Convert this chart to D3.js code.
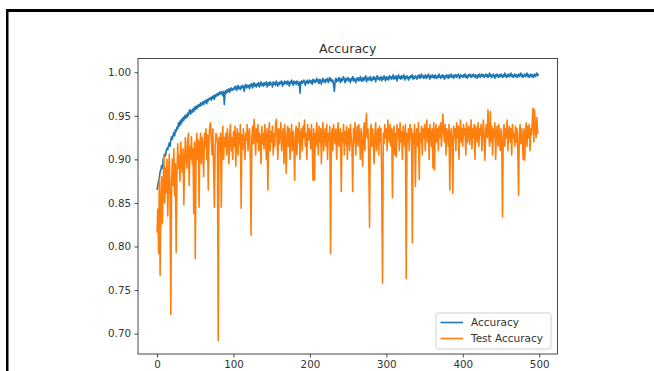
<!DOCTYPE html>
<html>
<head>
<meta charset="utf-8">
<script src="https://cdn.jsdelivr.net/npm/d3@7"></script>
<style>
  html, body { margin: 0; padding: 0; background: #fff; }
  svg { display: block; font-family: "DejaVu Sans", sans-serif; }
</style>
</head>
<body>
<svg id="chart" width="654" height="371"></svg>
<script>
// training accuracy per epoch
const accuracy = [
  0.865, 0.87, 0.876, 0.879, 0.886, 0.888, 0.893, 0.89, 0.9, 0.903,
  0.906, 0.904, 0.91, 0.913, 0.911, 0.916, 0.919, 0.915, 0.922, 0.926,
  0.923, 0.928, 0.931, 0.927, 0.934, 0.932, 0.937, 0.935, 0.942, 0.938,
  0.944, 0.94, 0.946, 0.943, 0.948, 0.945, 0.95, 0.947, 0.951, 0.948,
  0.953, 0.95, 0.955, 0.957, 0.952, 0.956, 0.954, 0.958, 0.955, 0.96,
  0.957, 0.961, 0.958, 0.962, 0.96, 0.963, 0.961, 0.965, 0.962, 0.964,
  0.966, 0.963, 0.967, 0.965, 0.968, 0.964, 0.969, 0.967, 0.97, 0.969,
  0.971, 0.968, 0.972, 0.97, 0.973, 0.969, 0.974, 0.972, 0.975, 0.973,
  0.976, 0.974, 0.977, 0.975, 0.978, 0.976, 0.973, 0.978, 0.963, 0.977,
  0.979, 0.976, 0.98, 0.978, 0.981, 0.977, 0.98, 0.982, 0.979, 0.981,
  0.98, 0.983, 0.981, 0.984, 0.979, 0.982, 0.985, 0.981, 0.983, 0.98,
  0.984, 0.982, 0.985, 0.983, 0.978, 0.984, 0.986, 0.982, 0.985, 0.983,
  0.985, 0.981, 0.986, 0.984, 0.987, 0.982, 0.985, 0.988, 0.984, 0.986,
  0.983, 0.987, 0.985, 0.988, 0.983, 0.986, 0.989, 0.985, 0.987, 0.984,
  0.988, 0.985, 0.987, 0.989, 0.983, 0.986, 0.988, 0.985, 0.989, 0.986,
  0.987, 0.983, 0.989, 0.986, 0.988, 0.985, 0.99, 0.987, 0.984, 0.988,
  0.986, 0.989, 0.987, 0.99, 0.984, 0.988, 0.986, 0.99, 0.987, 0.989,
  0.986, 0.99, 0.988, 0.984, 0.989, 0.987, 0.991, 0.988, 0.985, 0.99,
  0.987, 0.989, 0.986, 0.99, 0.988, 0.985, 0.989, 0.976, 0.988, 0.99,
  0.987, 0.989, 0.991, 0.988, 0.985, 0.99, 0.988, 0.991, 0.987, 0.989,
  0.991, 0.988, 0.99, 0.986, 0.992, 0.989, 0.991, 0.988, 0.99, 0.993,
  0.989, 0.991, 0.987, 0.992, 0.99, 0.986, 0.991, 0.993, 0.989, 0.991,
  0.988, 0.992, 0.99, 0.993, 0.988, 0.991, 0.994, 0.99, 0.992, 0.989,
  0.991, 0.985, 0.978, 0.99, 0.993, 0.989, 0.992, 0.99, 0.994, 0.991,
  0.988, 0.993, 0.99, 0.992, 0.995, 0.991, 0.988, 0.993, 0.99, 0.992,
  0.994, 0.99, 0.992, 0.988, 0.993, 0.991, 0.995, 0.99, 0.993, 0.991,
  0.988, 0.993, 0.991, 0.994, 0.99, 0.992, 0.995, 0.99, 0.993, 0.99,
  0.994, 0.991, 0.993, 0.996, 0.989, 0.992, 0.994, 0.991, 0.993, 0.995,
  0.99, 0.993, 0.991, 0.995, 0.992, 0.994, 0.989, 0.993, 0.996, 0.992,
  0.994, 0.991, 0.993, 0.995, 0.99, 0.994, 0.992, 0.996, 0.993, 0.99,
  0.995, 0.992, 0.994, 0.991, 0.996, 0.993, 0.995, 0.992, 0.994, 0.997,
  0.992, 0.995, 0.993, 0.996, 0.99, 0.994, 0.997, 0.993, 0.995, 0.992,
  0.996, 0.993, 0.995, 0.997, 0.991, 0.995, 0.993, 0.996, 0.994, 0.991,
  0.995, 0.993, 0.996, 0.994, 0.997, 0.992, 0.995, 0.993, 0.996, 0.994,
  0.992, 0.996, 0.994, 0.997, 0.993, 0.995, 0.998, 0.994, 0.996, 0.993,
  0.995, 0.997, 0.993, 0.996, 0.994, 0.998, 0.995, 0.992, 0.996, 0.994,
  0.997, 0.994, 0.996, 0.993, 0.997, 0.995, 0.993, 0.996, 0.994, 0.998,
  0.995, 0.993, 0.996, 0.994, 0.997, 0.995, 0.992, 0.996, 0.994, 0.997,
  0.995, 0.993, 0.997, 0.994, 0.996, 0.998, 0.994, 0.996, 0.993, 0.997,
  0.995, 0.997, 0.994, 0.996, 0.998, 0.995, 0.993, 0.997, 0.995, 0.996,
  0.994, 0.997, 0.995, 0.998, 0.994, 0.996, 0.993, 0.997, 0.995, 0.998,
  0.996, 0.994, 0.997, 0.995, 0.998, 0.996, 0.994, 0.997, 0.995, 0.993,
  0.997, 0.995, 0.998, 0.994, 0.996, 0.998, 0.995, 0.997, 0.994, 0.996,
  0.998, 0.995, 0.997, 0.994, 0.996, 0.999, 0.995, 0.997, 0.994, 0.996,
  0.998, 0.995, 0.993, 0.997, 0.995, 0.998, 0.996, 0.994, 0.997, 0.995,
  0.998, 0.996, 0.994, 0.997, 0.995, 0.999, 0.996, 0.994, 0.997, 0.995,
  0.998, 0.995, 0.997, 0.999, 0.995, 0.997, 0.994, 0.996, 0.998, 0.995,
  0.997, 0.994, 0.996, 0.998, 0.995, 0.997, 0.999, 0.995, 0.997, 0.994,
  0.996, 0.998, 0.995, 0.997, 0.999, 0.995, 0.997, 0.994, 0.996, 0.998,
  0.995, 0.997, 0.994, 0.996, 0.998, 0.995, 0.997, 0.999, 0.996, 0.998
];

// test accuracy per epoch
const testAccuracy = [
  0.816, 0.843, 0.792, 0.878, 0.767, 0.852, 0.88, 0.826, 0.871, 0.905,
  0.85, 0.89, 0.862, 0.9, 0.835, 0.882, 0.906, 0.855, 0.722, 0.872,
  0.9, 0.87, 0.912, 0.858, 0.895, 0.793, 0.88, 0.918, 0.89, 0.905,
  0.875, 0.92, 0.9, 0.885, 0.912, 0.848, 0.895, 0.925, 0.905, 0.89,
  0.918, 0.93, 0.87, 0.915, 0.9, 0.926, 0.895, 0.912, 0.838, 0.92,
  0.786, 0.91, 0.93, 0.9, 0.922, 0.845, 0.918, 0.93, 0.895, 0.925,
  0.912, 0.88, 0.93, 0.915, 0.935, 0.9, 0.928, 0.865, 0.925, 0.938,
  0.942, 0.92, 0.905, 0.935, 0.89, 0.845, 0.915, 0.93, 0.928, 0.92,
  0.692, 0.925, 0.91, 0.93, 0.845, 0.92, 0.938, 0.9, 0.925, 0.915,
  0.93, 0.905, 0.935, 0.918, 0.895, 0.928, 0.94, 0.91, 0.925, 0.9,
  0.932, 0.915, 0.938, 0.892, 0.925, 0.935, 0.905, 0.93, 0.918, 0.94,
  0.844, 0.928, 0.912, 0.935, 0.92, 0.9, 0.93, 0.922, 0.94, 0.91,
  0.928, 0.935, 0.9, 0.813, 0.925, 0.938, 0.918, 0.946, 0.93, 0.905,
  0.935, 0.92, 0.94, 0.91, 0.93, 0.925, 0.895, 0.938, 0.918, 0.93,
  0.912, 0.94, 0.925, 0.9, 0.935, 0.865, 0.928, 0.942, 0.91, 0.932,
  0.92, 0.938, 0.905, 0.93, 0.915, 0.94, 0.946, 0.925, 0.9, 0.935,
  0.918, 0.93, 0.942, 0.91, 0.928, 0.935, 0.895, 0.94, 0.92, 0.884,
  0.93, 0.938, 0.915, 0.935, 0.9, 0.925, 0.94, 0.91, 0.932, 0.92,
  0.876, 0.93, 0.938, 0.905, 0.935, 0.92, 0.942, 0.9, 0.928, 0.935,
  0.91, 0.938, 0.925, 0.945, 0.915, 0.93, 0.9, 0.94, 0.922, 0.935,
  0.93, 0.912, 0.94, 0.92, 0.876, 0.935, 0.876, 0.93, 0.915, 0.942,
  0.925, 0.905, 0.938, 0.92, 0.935, 0.895, 0.93, 0.942, 0.91, 0.928,
  0.935, 0.915, 0.94, 0.9, 0.93, 0.922, 0.938, 0.792, 0.925, 0.935,
  0.91, 0.94, 0.928, 0.918, 0.935, 0.9, 0.93, 0.942, 0.915, 0.925,
  0.935, 0.863, 0.93, 0.92, 0.94, 0.905, 0.932, 0.918, 0.938, 0.9,
  0.928, 0.935, 0.91, 0.94, 0.925, 0.915, 0.863, 0.935, 0.92, 0.942,
  0.905, 0.93, 0.938, 0.915, 0.94, 0.925, 0.9, 0.935, 0.92, 0.892,
  0.93, 0.942, 0.91, 0.938, 0.953, 0.925, 0.935, 0.9, 0.822, 0.93,
  0.94, 0.915, 0.935, 0.92, 0.895, 0.93, 0.942, 0.91, 0.928, 0.935,
  0.905, 0.938, 0.92, 0.935, 0.87, 0.758, 0.93, 0.918, 0.94, 0.925,
  0.935, 0.91, 0.945, 0.928, 0.92, 0.94, 0.915, 0.935, 0.856, 0.93,
  0.938, 0.905, 0.93, 0.903, 0.94, 0.925, 0.935, 0.91, 0.942, 0.92,
  0.932, 0.9, 0.938, 0.925, 0.915, 0.94, 0.763, 0.93, 0.92, 0.935,
  0.91, 0.94, 0.925, 0.935, 0.804, 0.93, 0.918, 0.94, 0.869, 0.928,
  0.935, 0.915, 0.942, 0.877, 0.93, 0.92, 0.938, 0.905, 0.935, 0.925,
  0.94, 0.91, 0.932, 0.945, 0.92, 0.935, 0.9, 0.94, 0.928, 0.915,
  0.935, 0.89, 0.942, 0.888, 0.93, 0.94, 0.92, 0.935, 0.91, 0.938,
  0.925, 0.942, 0.915, 0.935, 0.952, 0.93, 0.92, 0.94, 0.905, 0.935,
  0.928, 0.915, 0.94, 0.865, 0.93, 0.935, 0.92, 0.861, 0.938, 0.925,
  0.935, 0.91, 0.942, 0.925, 0.938, 0.9, 0.93, 0.945, 0.92, 0.935,
  0.915, 0.94, 0.928, 0.935, 0.905, 0.942, 0.92, 0.932, 0.938, 0.917,
  0.93, 0.945, 0.912, 0.935, 0.925, 0.94, 0.9, 0.938, 0.93, 0.92,
  0.942, 0.915, 0.935, 0.928, 0.94, 0.91, 0.932, 0.945, 0.92, 0.899,
  0.935, 0.94, 0.925, 0.957, 0.93, 0.915, 0.955, 0.92, 0.938, 0.905,
  0.935, 0.925, 0.942, 0.9, 0.93, 0.938, 0.915, 0.94, 0.925, 0.91,
  0.935, 0.92, 0.834, 0.93, 0.94, 0.915, 0.935, 0.925, 0.945, 0.91,
  0.93, 0.938, 0.92, 0.935, 0.905, 0.94, 0.925, 0.93, 0.915, 0.938,
  0.92, 0.935, 0.91, 0.859, 0.93, 0.94, 0.918, 0.935, 0.925, 0.9,
  0.935, 0.899, 0.93, 0.942, 0.915, 0.938, 0.925, 0.94, 0.91, 0.935,
  0.928, 0.945, 0.959, 0.92, 0.957, 0.935, 0.925, 0.948, 0.93, 0.93
];

const seriesNames = ['Accuracy', 'Test Accuracy'];
const seriesColors = ['#1f77b4', '#ff7f0e'];
const xTicks = [0, 100, 200, 300, 400, 500];
const yTicks = [0.70, 0.75, 0.80, 0.85, 0.90, 0.95, 1.00];

const svg = d3.select('#chart');

// outer black frame (top and left edges visible)
svg.append('rect').attr('x', 6).attr('y', 9).attr('width', 660).attr('height', 3).attr('fill', '#000');
svg.append('rect').attr('x', 6).attr('y', 9).attr('width', 2.5).attr('height', 370).attr('fill', '#000');

const plot = { left: 138, right: 557.5, top: 58.5, bottom: 354 };

// matplotlib-style 5% margins
const n = accuracy.length;
const xPad = (n - 1) * 0.05;
const allVals = accuracy.concat(testAccuracy);
const [yMin, yMax] = d3.extent(allVals);
const yPad = (yMax - yMin) * 0.05;

const x = d3.scaleLinear().domain([-xPad, n - 1 + xPad]).range([plot.left, plot.right]);
const y = d3.scaleLinear().domain([yMin - yPad, yMax + yPad + 0.0014]).range([plot.bottom, plot.top]);

const series = [accuracy, testAccuracy];

const line = d3.line()
  .x((d, i) => x(i))
  .y(d => y(d));

const clip = svg.append('defs').append('clipPath').attr('id', 'clip');
clip.append('rect')
  .attr('x', plot.left).attr('y', plot.top)
  .attr('width', plot.right - plot.left).attr('height', plot.bottom - plot.top);

const lines = svg.append('g').attr('clip-path', 'url(#clip)');
series.forEach((s, k) => {
  lines.append('path')
    .datum(s)
    .attr('fill', 'none')
    .attr('stroke', seriesColors[k])
    .attr('stroke-width', 1.6)
    .attr('stroke-linejoin', 'round')
    .attr('d', line);
});

// axes
const xAxis = svg.append('g')
  .attr('transform', `translate(0,${plot.bottom})`)
  .call(d3.axisBottom(x).tickValues(xTicks).tickSize(3.5).tickPadding(3.5).tickFormat(d3.format('d')));

const yAxis = svg.append('g')
  .attr('transform', `translate(${plot.left},0)`)
  .call(d3.axisLeft(y).tickValues(yTicks).tickSize(3.5).tickPadding(3.5).tickFormat(d3.format('.2f')));

[xAxis, yAxis].forEach(a => {
  a.select('.domain').remove();
  a.selectAll('.tick line').attr('stroke', '#333').attr('stroke-width', 0.9);
  a.selectAll('.tick text').attr('fill', '#333').style('font-size', '10.3px').style('font-family', '"DejaVu Sans", sans-serif');
});

// spines
svg.append('rect')
  .attr('x', plot.left).attr('y', plot.top)
  .attr('width', plot.right - plot.left).attr('height', plot.bottom - plot.top)
  .attr('fill', 'none').attr('stroke', '#333').attr('stroke-width', 0.9);

// title
svg.append('text')
  .attr('x', (plot.left + plot.right) / 2)
  .attr('y', 53)
  .attr('text-anchor', 'middle')
  .attr('fill', '#333')
  .style('font-size', '12.6px')
  .text('Accuracy');

// legend
const legend = svg.append('g').attr('transform', 'translate(436,313)');
legend.append('rect')
  .attr('width', 115).attr('height', 36).attr('rx', 2.5)
  .attr('fill', '#fff').attr('fill-opacity', 0.8)
  .attr('stroke', '#ccc').attr('stroke-width', 0.9);

seriesNames.forEach((name, k) => {
  const row = legend.append('g').attr('transform', `translate(0,${9.5 + k * 16})`);
  row.append('line')
    .attr('x1', 4.5).attr('x2', 27)
    .attr('stroke', seriesColors[k]).attr('stroke-width', 1.6);
  row.append('text')
    .attr('x', 35).attr('y', 3.8)
    .attr('fill', '#333')
    .style('font-size', '10.5px')
    .text(name);
});
</script>
</body>
</html>
